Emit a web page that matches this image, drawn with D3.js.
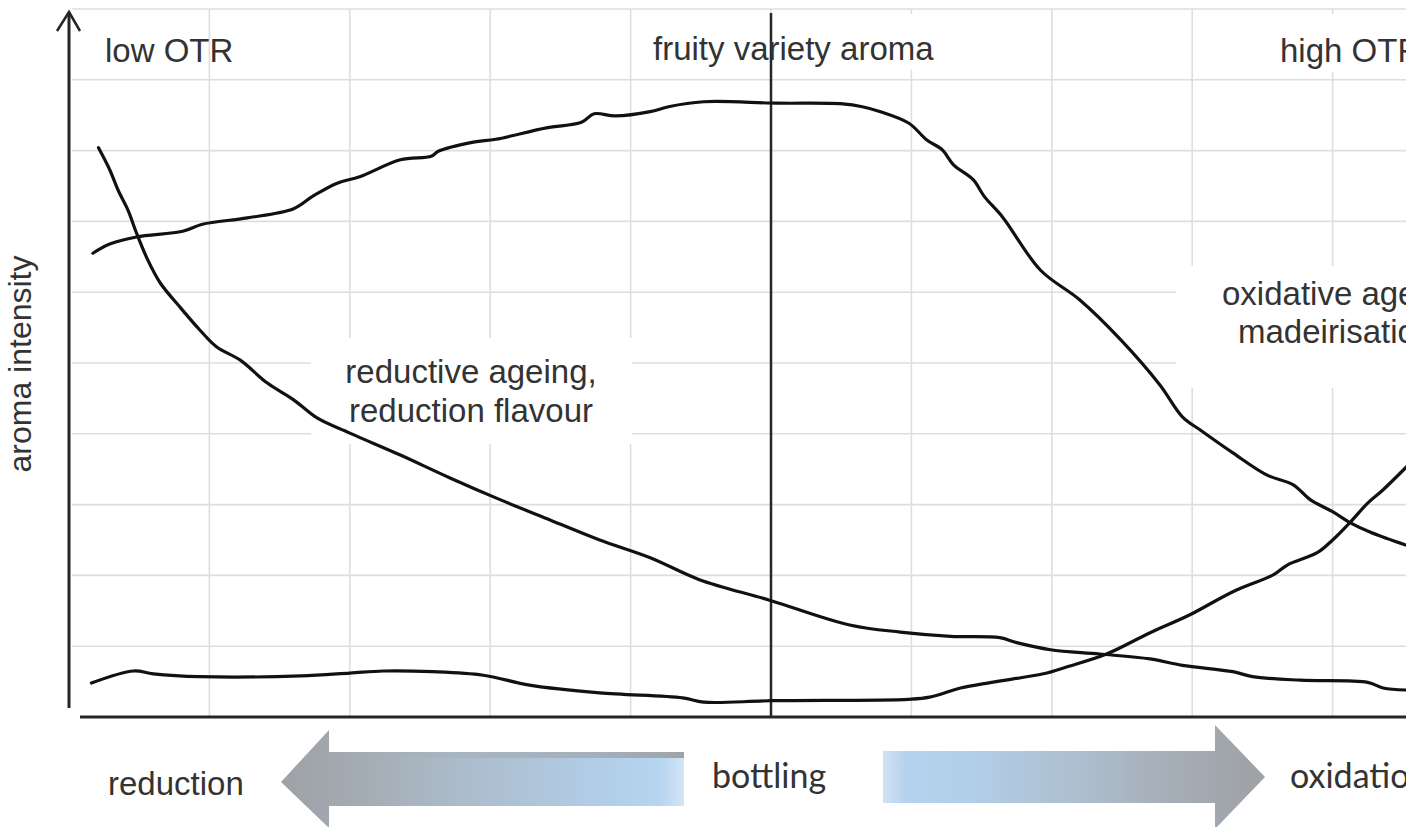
<!DOCTYPE html>
<html>
<head>
<meta charset="utf-8">
<script src="https://cdn.jsdelivr.net/npm/d3@7/dist/d3.min.js"></script>
<style>
body { margin: 0; background: #fff; }
svg { display: block; }
</style>
</head>
<body>
<div id="chart"></div>
<script>
// grid units: x = storage time (bottling at 5), y = aroma intensity
var xGrid = [1, 2, 3, 4, 5, 6, 7, 8, 9];
var yGrid = [1, 2, 3, 4, 5, 6, 7, 8, 9, 10];
var bottlingX = 5;

// fruity variety aroma
var fruity = [[0.17,6.55],[0.29,6.68],[0.48,6.78],[0.81,6.86],[0.95,6.96],[1.27,7.05],[1.6,7.18],
	[1.74,7.36],[1.91,7.54],[2.07,7.63],[2.36,7.87],[2.58,7.92],[2.63,7.99],[2.88,8.12],[3.04,8.16],
	[3.4,8.32],[3.65,8.4],[3.74,8.52],[3.89,8.49],[4.14,8.55],[4.27,8.62],[4.52,8.69],[5.04,8.67],
	[5.51,8.66],[5.65,8.62],[5.78,8.55],[5.98,8.39],[6.11,8.15],[6.22,8.01],[6.3,7.8],[6.44,7.59],
	[6.52,7.35],[6.65,7.06],[6.92,6.31],[7.2,5.89],[7.49,5.33],[7.77,4.69],[7.93,4.24],[8.06,4.05],
	[8.29,3.73],[8.53,3.42],[8.72,3.28],[8.84,3.07],[9.0,2.9],[9.12,2.75],[9.27,2.61],[9.55,2.41]];

// reductive ageing
var reductive = [[0.21,8.04],[0.29,7.73],[0.35,7.44],[0.42,7.16],[0.48,6.84],[0.56,6.46],[0.65,6.13],
	[0.79,5.79],[0.93,5.47],[1.05,5.23],[1.22,5.04],[1.41,4.72],[1.6,4.48],[1.77,4.22],[2.0,4.01],
	[2.36,3.7],[2.71,3.38],[3.07,3.07],[3.43,2.78],[3.78,2.5],[4.14,2.25],[4.49,1.94],[4.99,1.65],
	[5.56,1.3],[5.92,1.2],[6.28,1.14],[6.63,1.12],[6.75,1.05],[6.99,0.95],[7.34,0.89],[7.7,0.82],
	[7.93,0.73],[8.29,0.64],[8.43,0.57],[8.77,0.52],[9.25,0.49],[9.36,0.41],[9.55,0.38]];

// oxidative ageing
var oxidative = [[0.16,0.48],[0.46,0.65],[0.6,0.61],[0.93,0.57],[1.65,0.58],[2.0,0.62],[2.24,0.65],
	[2.59,0.64],[2.95,0.59],[3.28,0.45],[3.78,0.34],[4.37,0.27],[4.52,0.21],[5.01,0.23],[5.98,0.25],
	[6.13,0.28],[6.35,0.41],[6.57,0.49],[6.94,0.61],[7.11,0.71],[7.39,0.89],[7.7,1.19],[7.98,1.44],
	[8.29,1.77],[8.58,2.01],[8.68,2.15],[8.89,2.32],[9.0,2.5],[9.12,2.74],[9.25,3.02],[9.36,3.21],[9.55,3.58]];

var width = 1406, height = 827;
var svg = d3.select("#chart").append("svg").attr("width", width).attr("height", height)
	.style("font-family", "'Liberation Sans', Arial, sans-serif");

var x = d3.scaleLinear().domain([0, 10]).range([69, 69 + 1404]);
var y = d3.scaleLinear().domain([0, 10]).range([717, 9]);

var defs = svg.append("defs");
var gl = defs.append("linearGradient").attr("id", "gradLeft").attr("gradientUnits", "userSpaceOnUse")
	.attr("x1", 281).attr("x2", 684).attr("y1", 0).attr("y2", 0);
[[0, "#9ea2a7"], [0.14, "#a2a8ae"], [0.42, "#abbac8"], [0.78, "#b1cde6"], [0.94, "#b6d5ef"], [1, "#d4e5f5"]].forEach(function(s) {
	gl.append("stop").attr("offset", s[0]).attr("stop-color", s[1]);
});
var gr = defs.append("linearGradient").attr("id", "gradRight").attr("gradientUnits", "userSpaceOnUse")
	.attr("x1", 883).attr("x2", 1265).attr("y1", 0).attr("y2", 0);
[[0, "#d0e2f4"], [0.06, "#b5d3ee"], [0.22, "#b2cfe9"], [0.5, "#adbfd0"], [0.78, "#a5acb4"], [1, "#9ea1a5"]].forEach(function(s) {
	gr.append("stop").attr("offset", s[0]).attr("stop-color", s[1]);
});
var gt = defs.append("linearGradient").attr("id", "gradTop").attr("gradientUnits", "userSpaceOnUse")
	.attr("x1", 330).attr("x2", 684).attr("y1", 0).attr("y2", 0);
gt.append("stop").attr("offset", 0).attr("stop-color", "#a4abb2").attr("stop-opacity", 0);
gt.append("stop").attr("offset", 1).attr("stop-color", "#9ea3a8").attr("stop-opacity", 1);

// grid
var grid = svg.append("g").attr("stroke", "#dedede").attr("stroke-width", 1.6);
grid.selectAll("line.v").data(xGrid).enter().append("line").attr("class", "v")
	.attr("x1", function(d) { return x(d); }).attr("x2", function(d) { return x(d); })
	.attr("y1", y(10)).attr("y2", y(0));
grid.selectAll("line.h").data(yGrid).enter().append("line").attr("class", "h")
	.attr("x1", x(0) + 3).attr("x2", width)
	.attr("y1", function(d) { return y(d); }).attr("y2", function(d) { return y(d); });

// white boxes behind labels
function whiteBox(x0, y0, w, h) {
	svg.append("rect").attr("x", x0).attr("y", y0).attr("width", w).attr("height", h).attr("fill", "#fff");
}
whiteBox(640, 14, 310, 56);
whiteBox(1268, 14, 140, 58);
whiteBox(311, 338, 321, 106);
whiteBox(1176, 266, 240, 122);

// axes
var axis = svg.append("g").attr("stroke", "#262626").attr("stroke-width", 3).attr("fill", "none");
axis.append("line").attr("x1", x(0)).attr("x2", x(0)).attr("y1", 12).attr("y2", 708);
axis.append("path").attr("d", "M57,31 L69,12 L80,31").attr("stroke-width", 2.5);
axis.append("line").attr("x1", 80).attr("x2", width).attr("y1", y(0)).attr("y2", y(0));
axis.append("line").attr("x1", x(bottlingX)).attr("x2", x(bottlingX)).attr("y1", 13).attr("y2", y(0)).attr("stroke-width", 2.5);

// curves
var line = d3.line().curve(d3.curveCatmullRom.alpha(0.5))
	.x(function(d) { return x(d[0]); }).y(function(d) { return y(d[1]); });
[fruity, reductive, oxidative].forEach(function(s) {
	svg.append("path").attr("d", line(s)).attr("fill", "none").attr("stroke", "#111")
		.attr("stroke-width", 3.2).attr("stroke-linejoin", "round").attr("stroke-linecap", "round");
});

// labels
function label(t, px, py, anchor) {
	return svg.append("text").attr("x", px).attr("y", py).attr("text-anchor", anchor || "start")
		.attr("font-size", 33).attr("fill", "#333").text(t);
}
label("low OTR", 105, 62);
label("fruity variety aroma", 653, 60);
label("high OTR", 1280, 62);
label("reductive ageing,", 471, 383, "middle");
label("reduction flavour", 471, 422, "middle");
label("oxidative ageing,", 1222, 305);
label("madeirisation", 1238, 343);
label("reduction", 108, 795);
svg.append("text").attr("transform", "translate(31,364) rotate(-90)").attr("text-anchor", "middle")
	.attr("font-size", 32).attr("fill", "#333").text("aroma intensity");

// arrows
svg.append("path").attr("d", "M281,782 L329,730 L329,752 L684,752 L684,806 L329,806 L329,828 Z").attr("fill", "url(#gradLeft)");
svg.append("rect").attr("x", 329).attr("y", 752).attr("width", 355).attr("height", 6).attr("fill", "url(#gradTop)");
svg.append("path").attr("d", "M883,751 L1215,751 L1215,725 L1265,777 L1215,829 L1215,803 L883,803 Z").attr("fill", "url(#gradRight)");

svg.append("text").attr("x", 712).attr("y", 788).attr("font-family", "Lato, 'Open Sans', sans-serif")
	.attr("font-size", 34).attr("fill", "#333").text("bottling");
svg.append("text").attr("x", 1290).attr("y", 788).attr("font-family", "Lato, 'Open Sans', sans-serif")
	.attr("font-size", 34).attr("fill", "#333").text("oxidation");
</script>
</body>
</html>
